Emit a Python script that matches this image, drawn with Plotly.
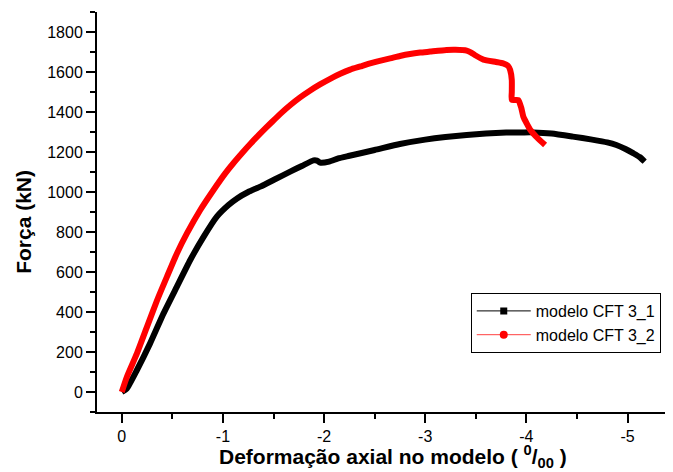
import plotly.graph_objects as go

# Series data (strain in per mille, force in kN)
cft31_x = [0.0, -0.05, -0.15, -0.28, -0.413, -0.545, -0.677, -0.81, -0.94, -1.055, -1.14, -1.25,
           -1.37, -1.52, -1.665, -1.78, -1.895, -1.93, -1.96, -2.05, -2.14, -2.24, -2.50, -2.75,
           -3.00, -3.20, -3.41, -3.60, -3.80, -3.97, -4.07, -4.25, -4.46, -4.65, -4.80, -4.89,
           -4.98, -5.06, -5.12, -5.17]
cft31_y = [0, 18, 110, 243, 393, 527, 660, 777, 877, 935, 968, 1000,
           1027, 1065, 1102, 1130, 1158, 1157, 1147, 1152, 1168, 1180, 1210, 1240,
           1262, 1275, 1285, 1292, 1297, 1298, 1298, 1292, 1277, 1262, 1248, 1235,
           1215, 1193, 1175, 1152]

cft32_x = [0.0, -0.05, -0.15, -0.25, -0.35, -0.447, -0.545, -0.644, -0.776, -0.907, -1.023,
           -1.105, -1.19, -1.27, -1.37, -1.484, -1.57, -1.667, -1.76, -1.863, -1.96, -2.06,
           -2.16, -2.258, -2.36, -2.455, -2.55, -2.653, -2.75, -2.85, -2.95, -3.05, -3.21,
           -3.30, -3.41, -3.45, -3.49, -3.575, -3.70, -3.77, -3.82, -3.84, -3.856, -3.856,
           -3.856, -3.92, -3.95, -3.97, -4.04, -4.11, -4.185]
cft32_y = [0, 75, 193, 327, 460, 577, 693, 793, 910, 1010, 1093,
           1145, 1195, 1240, 1293, 1350, 1392, 1435, 1472, 1508, 1538, 1566,
           1591, 1612, 1628, 1643, 1656, 1668, 1680, 1690, 1697, 1702, 1710,
           1711, 1707, 1698, 1685, 1662, 1650, 1643, 1630, 1610, 1560, 1500,
           1460, 1460, 1420, 1377, 1310, 1270, 1235]

series_names = ["modelo CFT 3_1", "modelo CFT 3_2"]
x_tick_vals = [0, -1, -2, -3, -4, -5]
x_tick_text = ["0", "-1", "-2", "-3", "-4", "-5"]
y_tick_vals = [0, 200, 400, 600, 800, 1000, 1200, 1400, 1600, 1800]

FONT = "Liberation Sans, Arial, sans-serif"

fig = go.Figure()
fig.add_trace(go.Scatter(x=cft31_x, y=cft31_y, mode="lines",
                         line=dict(color="black", width=6, shape="spline", smoothing=0.5),
                         showlegend=False))
fig.add_trace(go.Scatter(x=cft32_x, y=cft32_y, mode="lines",
                         line=dict(color="#ff0000", width=6, shape="spline", smoothing=0.5),
                         showlegend=False))
# legend entries
fig.add_trace(go.Scatter(x=[None], y=[None], mode="lines+markers", name=series_names[0],
                         line=dict(color="black", width=1),
                         marker=dict(symbol="square", size=7, color="black")))
fig.add_trace(go.Scatter(x=[None], y=[None], mode="lines+markers", name=series_names[1],
                         line=dict(color="#ff4040", width=1),
                         marker=dict(symbol="circle", size=8, color="#ff0000")))

axis_common = dict(showline=True, linecolor="black", linewidth=2, ticks="outside",
                   ticklen=9, tickwidth=2, tickcolor="black", showgrid=False, zeroline=False,
                   tickfont=dict(family=FONT, size=16, color="black"))

fig.update_xaxes(range=[0.245, -5.44], tickvals=x_tick_vals, ticktext=x_tick_text,
                 minor=dict(ticks="outside", ticklen=5, tickwidth=2, tickcolor="black", dtick=0.5,
                            tick0=0),
                 **axis_common)
fig.update_yaxes(range=[-100, 1900], tickvals=y_tick_vals,
                 minor=dict(ticks="outside", ticklen=5, tickwidth=2, tickcolor="black", dtick=100,
                            tick0=0),
                 **axis_common)

fig.update_layout(
    width=673, height=472,
    margin=dict(l=89, r=9, t=4, b=68),
    paper_bgcolor="white", plot_bgcolor="white",
    font=dict(family=FONT, color="black"),
    legend=dict(x=0.65, y=0.2975, xanchor="left", yanchor="top",
                bordercolor="black", borderwidth=1, bgcolor="white",
                font=dict(family=FONT, size=16, color="black"),
                tracegroupgap=0, itemwidth=54, entrywidth=205,
                entrywidthmode="pixels"),
    annotations=[
        dict(text="<b>Deformação axial no modelo ( <sup>0</sup>/<sub>00</sub> )</b>",
             xref="paper", yref="paper", x=0.515, y=-0.112, xanchor="center", yanchor="middle",
             showarrow=False, font=dict(family=FONT, size=21, color="black")),
        dict(text="<b>Força (kN)</b>", textangle=-90,
             xref="paper", yref="paper", x=-0.129, y=0.475, xanchor="center", yanchor="middle",
             showarrow=False, font=dict(family=FONT, size=21, color="black")),
    ],
)

fig.write_html("out.html")
